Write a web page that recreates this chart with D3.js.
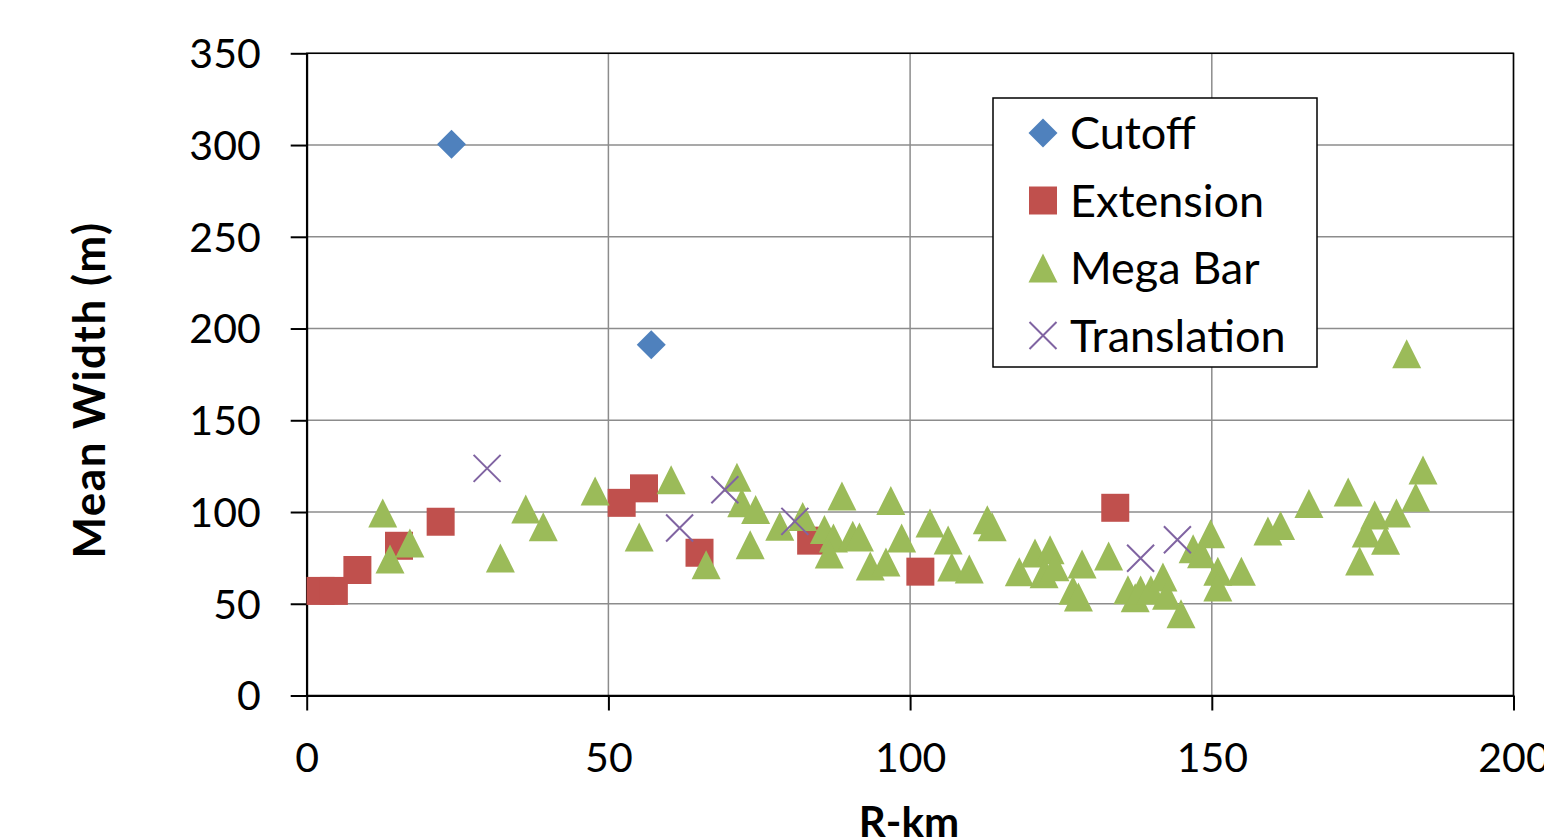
<!DOCTYPE html>
<html>
<head>
<meta charset="utf-8">
<script src="https://cdn.jsdelivr.net/npm/d3@7"></script>
<style>
body { margin: 0; background: #fff; }
text { font-family: Lato, "Open Sans", sans-serif; fill: #000; }
</style>
</head>
<body>
<svg width="1544" height="839"></svg>
<script>
// values: [R-km, mean width]
var cutoff = [[24.0, 300.5], [57.1, 191.1]];
var extension = [[2.3, 57], [4.5, 57], [8.4, 68.4], [15.3, 81.6], [22.2, 94.7], [52.2, 105],
    [55.9, 112.9], [65.1, 77.8], [83.6, 84.4], [101.7, 67.5], [134.0, 102.3]];
var megaBar = [[12.6, 99.5], [17.1, 83.1], [13.8, 74.4], [32.1, 75.0], [36.3, 101.6], [39.2, 92.0],
    [47.8, 111.4], [55.1, 86.4], [60.4, 117.6], [66.2, 71.3], [71.3, 119.0], [72.1, 105],
    [74.4, 101.4], [73.5, 82.2], [78.4, 92.2], [82.2, 97.6], [85.8, 90.5], [87.3, 85.8],
    [86.6, 77.1], [88.7, 108.7], [90.5, 87.3], [91.6, 86.4], [93.4, 70.6], [96.0, 72.8],
    [96.8, 106.3], [98.6, 85.8], [103.3, 94.0], [106.3, 84.8], [106.9, 70.0], [109.8, 68.9],
    [112.8, 95.8], [113.6, 92.0], [118.1, 67.5], [120.7, 77.7], [123.2, 79.5], [122.2, 66.4],
    [124.0, 70.2], [128.5, 71.7], [127.0, 57.3], [127.9, 53.7], [132.9, 76.0], [136.1, 57.7],
    [137.3, 53.3], [138.2, 57.5], [139.9, 57.7], [141.9, 64.6], [142.5, 54.6], [144.9, 44.6],
    [146.9, 80.0], [148.3, 77.3], [149.8, 88.2], [151.0, 67.7], [151.0, 59.2], [154.9, 67.7],
    [159.3, 89.6], [161.4, 92.7], [166.1, 104.7], [172.6, 110.9], [174.5, 73.3], [175.6, 88.6],
    [177.0, 98.4], [178.8, 84.6], [180.6, 99.4], [183.8, 108.0], [185.0, 122.9], [182.3, 186.2]];
var translation = [[29.9, 123.8], [61.8, 91.3], [69.3, 112.1], [80.9, 94.9], [138.2, 74.8], [144.3, 84.9]];

var seriesNames = ["Cutoff", "Extension", "Mega Bar", "Translation"];
var xTicks = [0, 50, 100, 150, 200];
var yTicks = [0, 50, 100, 150, 200, 250, 300, 350];

var svg = d3.select("svg");
var plotLeft = 306.7, plotRight = 1513.5, plotTop = 53.3, plotBottom = 695.5;

var xScale = d3.scaleLinear().domain([0, 200]).range([plotLeft, plotRight]);
var yScale = d3.scaleLinear().domain([0, 350]).range([plotBottom, plotTop]);

// marker shapes, centred on their bounding box like the spreadsheet markers
var triangle = { draw: function (c, size) { var h = Math.sqrt(size) / 2;
    c.moveTo(0, -h); c.lineTo(h, h); c.lineTo(-h, h); c.closePath(); } };
var diamond = { draw: function (c, size) { var h = Math.sqrt(size) / 2;
    c.moveTo(0, -h); c.lineTo(h, 0); c.lineTo(0, h); c.lineTo(-h, 0); c.closePath(); } };
var cross = { draw: function (c, size) { var h = Math.sqrt(size) / 2;
    c.moveTo(-h, -h); c.lineTo(h, h); c.moveTo(h, -h); c.lineTo(-h, h); } };

var markers = [
    { data: cutoff, type: diamond, size: 29 * 29, fill: "#4f81bd", stroke: "none" },
    { data: extension, type: d3.symbolSquare, size: 28 * 28, fill: "#c0504d", stroke: "none" },
    { data: megaBar, type: triangle, size: 29 * 29, fill: "#9bbb59", stroke: "none" },
    { data: translation, type: cross, size: 27 * 27, fill: "none", stroke: "#8064a2" }
];

// grid
svg.append("g").selectAll("line").data(yTicks.slice(1)).enter().append("line")
    .attr("x1", plotLeft).attr("x2", plotRight)
    .attr("y1", function (d) { return yScale(d) }).attr("y2", function (d) { return yScale(d) })
    .attr("stroke", "#8c8c8c").attr("stroke-width", 1.5);
svg.append("g").selectAll("line").data(xTicks.slice(1)).enter().append("line")
    .attr("y1", plotTop).attr("y2", plotBottom)
    .attr("x1", function (d) { return xScale(d) }).attr("x2", function (d) { return xScale(d) })
    .attr("stroke", "#8c8c8c").attr("stroke-width", 1.5);
svg.append("rect").attr("x", plotLeft).attr("y", plotTop)
    .attr("width", plotRight - plotLeft).attr("height", plotBottom - plotTop)
    .attr("fill", "none").attr("stroke", "#000").attr("stroke-width", 1.5);

// axes
var xAxis = d3.axisBottom(xScale).tickValues(xTicks).tickSize(15).tickSizeOuter(0);
var xAxisG = svg.append("g").attr("id", "xAxisG").attr("transform", "translate(0," + plotBottom + ")").call(xAxis);
xAxisG.selectAll("text").attr("y", 76).attr("dy", 0).style("font-size", "41px");

var yAxis = d3.axisLeft(yScale).tickValues(yTicks).tickSize(16).tickPadding(30).tickSizeOuter(0);
var yAxisG = svg.append("g").attr("id", "yAxisG").attr("transform", "translate(" + plotLeft + ",0)").call(yAxis);
yAxisG.selectAll("text").attr("dy", "0.35em").style("font-size", "41px");

svg.selectAll(".domain, .tick line").attr("stroke", "#000").attr("stroke-width", 2);
svg.selectAll(".tick text").attr("fill", "#000").style("font-family", "Lato, sans-serif");

// points
markers.forEach(function (m) {
    var sym = d3.symbol().type(m.type).size(m.size);
    svg.append("g").selectAll("path").data(m.data).enter().append("path")
        .attr("d", sym)
        .attr("transform", function (d) { return "translate(" + xScale(d[0]) + "," + yScale(d[1]) + ")" })
        .attr("fill", m.fill).attr("stroke", m.stroke).attr("stroke-width", 2);
});

// titles
svg.append("text").attr("transform", "translate(105,390) rotate(-90)")
    .attr("text-anchor", "middle").style("font-size", "44px").style("font-weight", "bold")
    .style("letter-spacing", "1.5px")
    .text("Mean Width (m)");
svg.append("text").attr("x", 909).attr("y", 837)
    .attr("text-anchor", "middle").style("font-size", "42px").style("font-weight", "bold")
    .text("R-km");

// legend
var legend = svg.append("g").attr("transform", "translate(993,98)");
legend.append("rect").attr("width", 324).attr("height", 269)
    .attr("fill", "#fff").attr("stroke", "#000").attr("stroke-width", 1.5);
markers.forEach(function (m, i) {
    var yy = 35 + i * 67.5;
    legend.append("path").attr("d", d3.symbol().type(m.type).size(m.size)())
        .attr("transform", "translate(50," + yy + ")")
        .attr("fill", m.fill).attr("stroke", m.stroke).attr("stroke-width", 2);
    legend.append("text").attr("x", 77).attr("y", yy).attr("dy", "0.36em")
        .style("font-size", "45px").text(seriesNames[i]);
});
</script>
</body>
</html>
